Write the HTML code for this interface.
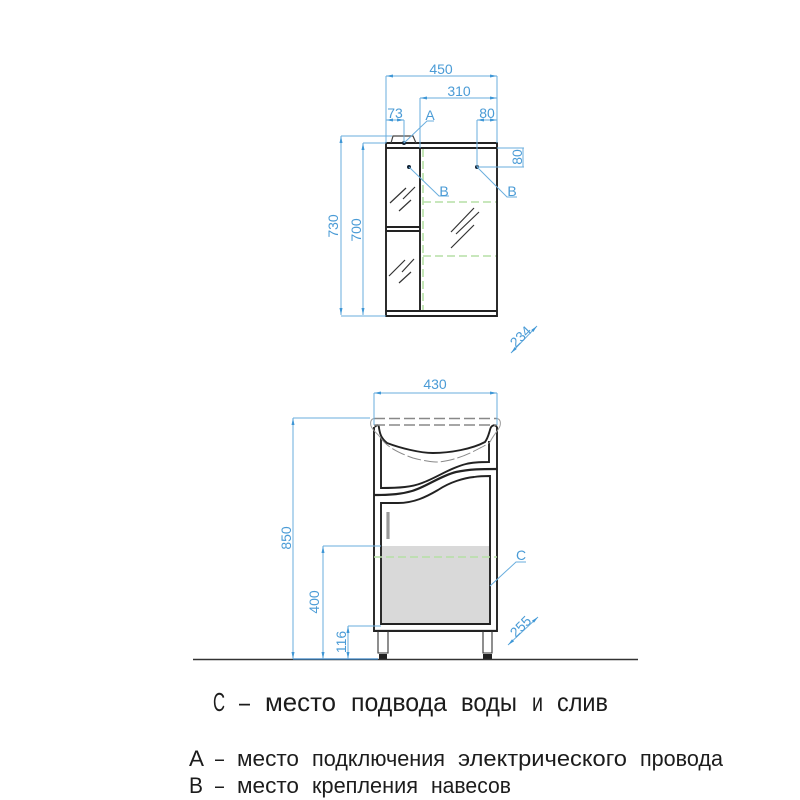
<!DOCTYPE html>
<html><head><meta charset="utf-8"><style>
html,body{margin:0;padding:0;background:#fff}
svg{display:block}
.d{stroke:#6aaede;stroke-width:1;fill:none}
.k{stroke:#222;stroke-width:1.9;fill:none}
.t{fill:#4a9bd6;font-family:"Liberation Sans",sans-serif;font-size:14px;text-anchor:middle}
.g{stroke:#b5dfa5;stroke-width:1.6;stroke-dasharray:8 4;fill:none}
.h{stroke:#333;stroke-width:1.2;fill:none}
.b{fill:#1c1c1c;font-family:"Liberation Sans","Noto Sans CJK SC",sans-serif}
.c{font-size:26px}
.s{font-size:22px}
</style></head><body>
<svg width="800" height="800" viewBox="0 0 800 800" xmlns="http://www.w3.org/2000/svg">
<defs>
<marker id="a" viewBox="0 0 7 3" refX="7" refY="1.500" markerWidth="7" markerHeight="3" orient="auto-start-reverse" markerUnits="userSpaceOnUse"><path d="M0 0L7 1.500L0 3Z" fill="#3f97d6"/></marker>
</defs>
<rect width="800" height="800" fill="#fff"/>

<!-- upper cabinet: green -->
<path class="g" d="M423 149V311M423 202H497M423 256H497"/>
<!-- upper cabinet -->
<path class="k" d="M386 143H497V316H386ZM386 148H497M420 148V311M386 227H420M386 231H420M386 311H497"/>
<path d="M391 143L393 136H413L416 143" fill="none" stroke="#444" stroke-width="1.2"/>
<circle cx="404" cy="143" r="2" fill="#123"/>
<circle cx="409" cy="167" r="2" fill="#123"/>
<circle cx="477" cy="167" r="2" fill="#123"/>
<path class="h" d="M451 232L474 208M456 234L479 212M451 248L474 225M390 203L406 188M403 199L415 187M399 211L411 200M389 276L405 260M402 272L414 259M399 283L411 272"/>

<!-- upper dims -->
<path class="d" marker-start="url(#a)" marker-end="url(#a)" d="M386 76H497"/>
<path class="d" marker-start="url(#a)" marker-end="url(#a)" d="M420 98H497"/>
<path class="d" marker-start="url(#a)" marker-end="url(#a)" d="M386 120H404"/>
<path class="d" marker-start="url(#a)" marker-end="url(#a)" d="M477 120H497"/>
<path class="d" d="M386 76V143M497 76V143M420 98V148M404 120V143M477 120V167"/>
<path class="d" d="M404 143L427 121H434M409 167L439 196H449M477 167L507 197H517"/>
<path class="d" marker-start="url(#a)" marker-end="url(#a)" d="M341 136V315"/>
<path class="d" marker-start="url(#a)" marker-end="url(#a)" d="M363 143V315"/>
<path class="d" d="M341 136H392M363 143H386M341 316H386"/>
<path class="d" d="M497 148H524M477 167H524M523 148V167"/>
<path class="d" marker-start="url(#a)" marker-end="url(#a)" d="M511 353L537 326"/>
<text class="t" x="441" y="74">450</text>
<text class="t" x="459" y="96">310</text>
<text class="t" x="395" y="118">73</text>
<text class="t" x="487" y="118">80</text>
<text class="t" x="430" y="120">A</text>
<text class="t" x="444" y="196">B</text>
<text class="t" x="512" y="196">B</text>
<text class="t" transform="translate(522,157) rotate(-90)">80</text>
<text class="t" transform="translate(338,226) rotate(-90)">730</text>
<text class="t" transform="translate(361,230) rotate(-90)">700</text>
<text class="t" transform="translate(524,340) rotate(-45)">234</text>

<!-- lower cabinet: grey block -->
<rect x="381" y="546" width="110" height="78" fill="#d9d9d9"/>
<path d="M374 630H497" stroke="#bbb" stroke-width="1"/>
<!-- lower cabinet -->
<path class="k" d="M374 427V631H497V427"/>
<path class="k" d="M381 438V488C400 488 412 487 422 483C436 478 450 468 466 464C474 462 482 462 489 462V441"/>
<path class="k" d="M374 495C392 495 402 494 412 491C426 487 440 476 456 472C470 469 482 469 497 469" style="stroke-width:2.2"/>
<path class="k" d="M381 503H398C414 503 426 497 438 490C450 482 464 478 474 477C480 476 484 476 490 476V624H381Z"/>
<path class="k" d="M375 427C377 424 379 425 379 428C380 434 381 438 387 443C400 448 420 453 433 453C450 453 472 449 485 442C488 438 489 433 490 430C491 425 495 424 497 427"/>
<!-- grey outline and dashed bowl -->
<path d="M374 418.500C371 419 370 422 371 426C373 431 377 433 380 437" fill="none" stroke="#999" stroke-width="1"/>
<path d="M497 418.500C500 419 501 422 500 426C498 431 494 434 490 442" fill="none" stroke="#999" stroke-width="1"/>
<path d="M380 437C386 446 396 452 413 458C424 461 433 462 436 462C446 462 462 458 480 448C484 446 488 444 490 442" fill="none" stroke="#888" stroke-width="1" stroke-dasharray="14 3"/>
<path d="M374 418.500H497M374 425H497" fill="none" stroke="#888" stroke-width="1.4" stroke-dasharray="11 4"/>
<path d="M388 512V539" stroke="#999" stroke-width="3.2"/>
<path class="g" d="M374 557H497"/>
<!-- legs -->
<path d="M378 631V653H388V631M483 631V653H492V631" fill="none" stroke="#333" stroke-width="1.1"/>
<rect x="379" y="654" width="8" height="5" fill="#222"/>
<rect x="483" y="654" width="9" height="5" fill="#222"/>
<path d="M193 659.500H638" stroke="#333" stroke-width="1.4"/>
<path d="M293 659H378" stroke="#3f87c6" stroke-width="1.2"/>

<!-- lower dims -->
<path class="d" marker-start="url(#a)" marker-end="url(#a)" d="M374 393H497"/>
<path class="d" d="M374 393V425M497 393V425M293 418H370M323 546H381M348 626H381"/>
<path class="d" marker-start="url(#a)" marker-end="url(#a)" d="M293 418V659"/>
<path class="d" marker-start="url(#a)" marker-end="url(#a)" d="M323 546V659"/>
<path class="d" marker-start="url(#a)" marker-end="url(#a)" d="M348 626V659"/>
<path class="d" d="M490 586L516 562H526"/>
<path class="d" marker-start="url(#a)" marker-end="url(#a)" d="M508 645L538 617"/>
<text class="t" x="435" y="389">430</text>
<text class="t" x="521" y="560">C</text>
<text class="t" transform="translate(291,538) rotate(-90)">850</text>
<text class="t" transform="translate(319,602) rotate(-90)">400</text>
<text class="t" transform="translate(346,642) rotate(-90)">116</text>
<text class="t" transform="translate(524,630) rotate(-45)">255</text>

<!-- captions -->
<text class="b c" x="213" y="711" textLength="12" lengthAdjust="spacingAndGlyphs">С</text>
<text class="b c" x="239" y="711" textLength="11" lengthAdjust="spacingAndGlyphs">–</text>
<text class="b c" x="265" y="711" textLength="71" lengthAdjust="spacingAndGlyphs">место</text>
<text class="b c" x="351" y="711" textLength="96" lengthAdjust="spacingAndGlyphs">подвода</text>
<text class="b c" x="461" y="711" textLength="56" lengthAdjust="spacingAndGlyphs">воды</text>
<text class="b c" x="532" y="711" textLength="11" lengthAdjust="spacingAndGlyphs">и</text>
<text class="b c" x="557" y="711" textLength="51" lengthAdjust="spacingAndGlyphs">слив</text>

<text class="b s" x="189" y="766" textLength="15" lengthAdjust="spacingAndGlyphs">А</text>
<text class="b s" x="215" y="766" textLength="9" lengthAdjust="spacingAndGlyphs">–</text>
<text class="b s" x="237" y="766" textLength="62" lengthAdjust="spacingAndGlyphs">место</text>
<text class="b s" x="312" y="766" textLength="133" lengthAdjust="spacingAndGlyphs">подключения</text>
<text class="b s" x="458" y="766" textLength="169" lengthAdjust="spacingAndGlyphs">электрического</text>
<text class="b s" x="640" y="766" textLength="83" lengthAdjust="spacingAndGlyphs">провода</text>

<text class="b s" x="189" y="793" textLength="14" lengthAdjust="spacingAndGlyphs">В</text>
<text class="b s" x="215" y="793" textLength="9" lengthAdjust="spacingAndGlyphs">–</text>
<text class="b s" x="237" y="793" textLength="62" lengthAdjust="spacingAndGlyphs">место</text>
<text class="b s" x="312" y="793" textLength="106" lengthAdjust="spacingAndGlyphs">крепления</text>
<text class="b s" x="431" y="793" textLength="80" lengthAdjust="spacingAndGlyphs">навесов</text>
</svg>
</body></html>
